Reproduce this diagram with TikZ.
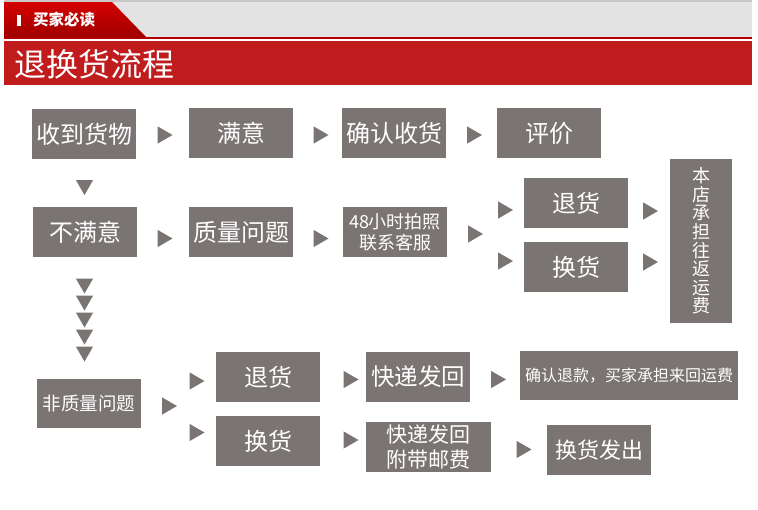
\documentclass[tikz,border=0pt]{standalone}
\usepackage{fontspec}
\usepackage{tikz}
\usetikzlibrary{shapes.geometric}
\newfontfamily\cjk{Noto Sans CJK SC}
\definecolor{boxgray}{RGB}{122,116,115}
\definecolor{bandred}{RGB}{192,28,30}
\definecolor{tabtop}{RGB}{212,0,0}
\definecolor{tabbottom}{RGB}{160,0,0}
\definecolor{linered}{RGB}{176,0,0}
\definecolor{barback}{RGB}{227,227,227}
\definecolor{bartop}{RGB}{200,200,200}

\begin{document}
\begin{tikzpicture}[x=1pt, y=-1pt,
	box/.style={fill=boxgray, text=white, inner sep=0pt, minimum width=104pt, minimum height=50pt, align=center, font=\cjk\fontsize{24}{26}\selectfont},
	rtri/.style={regular polygon, regular polygon sides=3, shape border rotate=-90, fill=boxgray, inner sep=0pt, minimum size=20pt},
	dtri/.style={regular polygon, regular polygon sides=3, shape border rotate=180, fill=boxgray, inner sep=0pt, minimum size=20pt}]
	
	\fill[white] (0,0) rectangle (758,509);
	\useasboundingbox (0,0) rectangle (758,509);
	
	% header
	\fill[barback] (4,0) rectangle (752,37);
	\fill[bartop] (4,0) rectangle (752,2);
	\shade[top color=tabtop, bottom color=tabbottom] (4,2) -- (112,2) -- (146,37) -- (4,37) -- cycle;
	\fill[linered] (4,37) rectangle (752,39);
	\fill[bandred] (4,41) rectangle (752,85);
	\fill[white] (17,15) rectangle (21,26);
	\node[anchor=west, inner sep=0pt, text=white, font=\cjk\bfseries\fontsize{15.5}{16}\selectfont] (tab) at (33,20) {买家必读};
	\node[anchor=west, inner sep=0pt, text=white, font=\cjk\fontsize{32}{34}\selectfont] (title) at (14,64) {退换货流程};
	
	% first row
	\node[box] (recv) at (84,134)    {收到货物};
	\node[box] (ok) at (241,133)     {满意};
	\node[box] (confirm) at (394,133) {确认收货};
	\node[box] (rate) at (549,133)   {评价};
	
	% second row
	\node[box] (notok) at (85,232)   {不满意};
	\node[box] (quality) at (241,232) {质量问题};
	\node[box, font=\cjk\fontsize{18}{21}\selectfont] (photo) at (395,232) {48小时拍照\\联系客服};
	\node[box] (return) at (576,203) {退货};
	\node[box] (swap) at (576,267)   {换货};
	\node[box, minimum width=62pt, minimum height=164pt, font=\cjk\fontsize{18}{18.6}\selectfont] (shop) at (701,241) {本\\店\\承\\担\\往\\返\\运\\费};
	
	% third row
	\node[box, minimum height=49pt, font=\cjk\fontsize{18.5}{20}\selectfont] (other) at (89,403.5) {非质量问题};
	\node[box] (returnb) at (268,377) {退货};
	\node[box] (swapb) at (268,441)   {换货};
	\node[box, font=\cjk\fontsize{23.5}{25}\selectfont] (send) at (418,377) {快递发回};
	\node[box, minimum width=218pt, minimum height=49pt, font=\cjk\fontsize{16}{18}\selectfont] (refund) at (629,375.5) {确认退款，买家承担来回运费};
	\node[box, minimum width=125pt, font=\cjk\fontsize{21}{25}\selectfont] (sendb) at (428.5,447) {快递发回\\附带邮费};
	\node[box, font=\cjk\fontsize{22}{24}\selectfont] (ship) at (599,450) {换货发出};
	
	% triangles
	\node[rtri] (t1) at (162.5,135) {};
	\node[rtri] (t2) at (318.5,135) {};
	\node[rtri] (t3) at (472,135) {};
	\node[dtri] (t4) at (84.5,185) {};
	\node[rtri] (t5) at (162.5,238.5) {};
	\node[rtri] (t6) at (318.5,238.5) {};
	\node[rtri] (t7) at (473,234) {};
	\node[rtri] (t8) at (503,210) {};
	\node[rtri] (t9) at (503,261) {};
	\node[rtri] (t10) at (648,211) {};
	\node[rtri] (t11) at (648,262) {};
	\foreach \y in {1,...,5}
	\node[dtri] (s\y) at (84.5,{266.5+17*\y}) {};
	\node[rtri] (t12) at (167,406) {};
	\node[rtri] (t13) at (194.5,381) {};
	\node[rtri] (t14) at (194.5,432.5) {};
	\node[rtri] (t15) at (348.5,379.5) {};
	\node[rtri] (t16) at (348.5,440) {};
	\node[rtri] (t17) at (496,379.5) {};
	\node[rtri] (t18) at (521.5,449.5) {};
	
\end{tikzpicture}
\end{document}
